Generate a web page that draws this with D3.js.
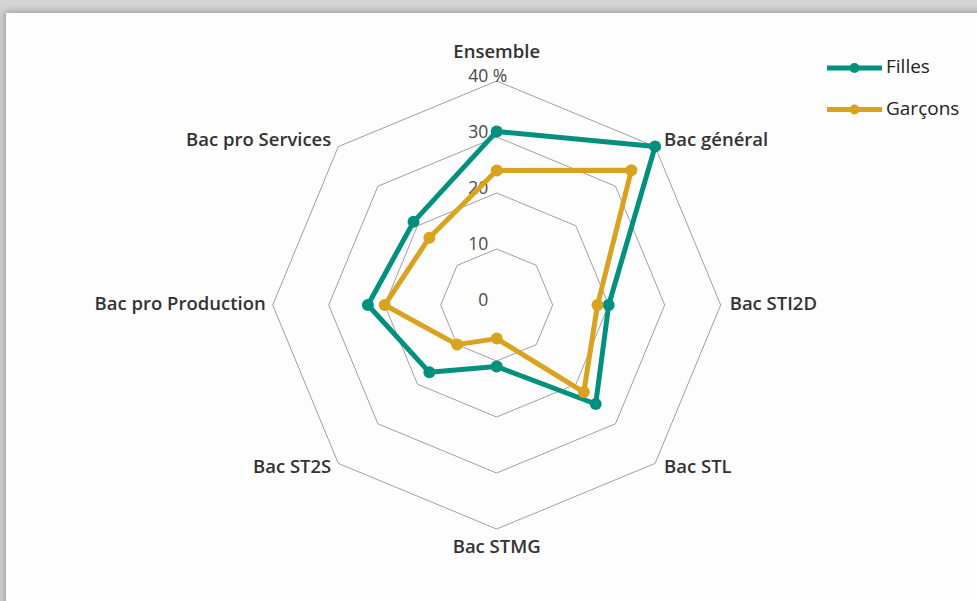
<!DOCTYPE html>
<html>
<head>
<meta charset="utf-8">
<script src="https://cdn.jsdelivr.net/npm/d3@7"></script>
<style>
  html, body { margin: 0; padding: 0; }
  body { width: 977px; height: 601px; background: #d6d6d6; overflow: hidden; position: relative; }
  #card { position: absolute; left: 6px; top: 13px; width: 980px; height: 600px; background: #fdfdfd;
          box-shadow: 0 0 7px 2px rgba(0,0,0,0.25); }
  svg { position: absolute; left: 0; top: 0; }
</style>
</head>
<body>
<div id="card"></div>
<script>
// Data
var categories = ["Ensemble", "Bac général", "Bac STI2D", "Bac STL", "Bac STMG", "Bac ST2S", "Bac pro Production", "Bac pro Services"];
var filles  = [31, 40, 20, 25, 11, 17, 23, 21];
var garcons = [24, 34, 18, 22, 6, 10, 20, 17];
var seriesNames = ["Filles", "Garçons"];
var tickValues = [0, 10, 20, 30, 40];

var w = 977, h = 601;
var cx = 496.7, cy = 305, R = 224;
var colors = ["#00917e", "#d9a31f"];
var font = "'Open Sans', sans-serif";

var svg = d3.select("body").append("svg")
  .attr("width", w)
  .attr("height", h);

// radial scale and angle per axis
var r = d3.scaleLinear().domain([0, 40]).range([0, R]);
var angle = d3.scalePoint().domain(d3.range(categories.length + 1)).range([0, 2 * Math.PI]);

function pt(i, v) {
  var a = angle(i);
  return [cx + r(v) * Math.sin(a), cy - r(v) * Math.cos(a)];
}

//Grid octagons
var grid = svg.append("g");
tickValues.filter(function(t){ return t > 0; }).forEach(function(t) {
  grid.append("path")
    .attr("d", d3.line()(categories.map(function(c, i){ return pt(i, t); })) + "Z")
    .attr("fill", "none")
    .attr("stroke", "#a0a0a0")
    .attr("stroke-width", 1);
});

//Tick labels
var ticks = svg.append("g");
tickValues.forEach(function(t) {
  ticks.append("text")
    .attr("x", cx - 8.5)
    .attr("y", cy - r(t) + 1)
    .attr("text-anchor", "end")
    .style("font-family", font)
    .style("font-size", "17.5px")
    .style("fill", "#4a4a4a")
    .text(t);
  if (t == 40) {
    ticks.append("text")
      .attr("x", cx - 8.5)
      .attr("y", cy - r(t) + 1)
      .style("font-family", font)
      .style("font-size", "17.5px")
      .style("fill", "#4a4a4a")
      .text("\u00a0%");
  }
});

//Category labels
var labels = svg.append("g");
categories.forEach(function(c, i) {
  var p = pt(i, 40);
  var s = Math.sin(angle(i)), co = Math.cos(angle(i));
  var x = p[0], y = p[1], anchor = "middle", base = "middle";
  if (Math.abs(s) < 0.01) {
    if (co > 0) { y = p[1] - 23; base = "auto"; }
    else { y = p[1] + 24; base = "auto"; }
  } else {
    anchor = s > 0 ? "start" : "end";
    x = p[0] + (s > 0 ? 9 : -7);
    y = p[1] + (co > 0.1 ? -6 : (co < -0.1 ? 5 : 0));
  }
  labels.append("text")
    .attr("x", x)
    .attr("y", y)
    .attr("text-anchor", anchor)
    .attr("dominant-baseline", base)
    .style("font-family", font)
    .style("font-size", "18.5px")
    .style("font-weight", 600)
    .style("fill", "#333")
    .text(c);
});

//Series
var line = d3.line().curve(d3.curveLinearClosed);
[filles, garcons].forEach(function(vals, k) {
  var pts = vals.map(function(v, i){ return pt(i, v); });
  var g = svg.append("g");
  g.append("path")
    .attr("d", line(pts))
    .attr("fill", "none")
    .attr("stroke", colors[k])
    .attr("stroke-width", 5)
    .attr("stroke-linejoin", "round");
  g.selectAll("circle")
    .data(pts)
    .enter().append("circle")
    .attr("cx", function(d){ return d[0]; })
    .attr("cy", function(d){ return d[1]; })
    .attr("r", 6)
    .attr("fill", colors[k]);
});

//Legend
var legend = svg.selectAll("g.legend")
  .data(seriesNames)
  .enter().append("g")
  .attr("class", "legend")
  .attr("transform", function(d, i){ return "translate(827," + (68 + i * 41.5) + ")"; });

legend.append("line")
  .attr("x1", 0).attr("x2", 55)
  .attr("stroke", function(d, i){ return colors[i]; })
  .attr("stroke-width", 5);
legend.append("circle")
  .attr("cx", 27.5).attr("r", 5)
  .attr("fill", function(d, i){ return colors[i]; });
legend.append("text")
  .attr("x", 59)
  .attr("dominant-baseline", "middle")
  .style("font-family", font)
  .style("font-size", "19px")
  .style("fill", "#222")
  .text(function(d){ return d; });
</script>
</body>
</html>
